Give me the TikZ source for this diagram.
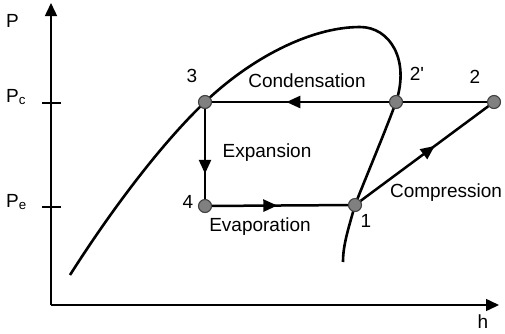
\documentclass[tikz,border=0pt]{standalone}
\usepackage{fontspec}
\setmainfont{Liberation Sans}
\usetikzlibrary{arrows.meta,decorations.markings}
\begin{document}
\begin{tikzpicture}[x=1pt,y=-1pt,
  lbl/.style={anchor=base,inner sep=0pt,font=\fontsize{19}{22}\selectfont},
  sublbl/.style={anchor=base west,inner sep=0pt,font=\fontsize{19}{22}\selectfont},
  statept/.style={circle,fill=black!50,draw=black!75,line width=1.1pt,minimum size=13pt,inner sep=0pt},
  cyc/.style={line width=2.5pt},
  dome/.style={line width=2.6pt},
  axis/.style={line width=1.5pt},
  midarrow/.style={postaction={decorate,decoration={markings,mark=at position #1 with {\arrow{Triangle[length=14pt,width=12pt]}}}}},
]
\useasboundingbox (0,0) rectangle (505,333);
% axes
\coordinate (O) at (51,305);
\coordinate (ytop) at (51,3);
\coordinate (xend) at (499,305);
\draw[axis,-{Triangle[length=13pt,width=12pt]}] (O) -- (ytop);
\draw[axis,-{Triangle[length=13pt,width=12pt]}] (O) -- (xend);
\coordinate (tcl) at (42,103);
\coordinate (tcr) at (61,103);
\coordinate (tel) at (42,207);
\coordinate (ter) at (61,207);
\draw[axis] (tcl) -- (tcr);
\draw[axis] (tel) -- (ter);
% saturation dome
\draw[dome] (70,275) .. controls (110,212) and (160,145) .. (205,102)
  .. controls (250,59) and (310,27) .. (360,27)
  .. controls (390,27) and (410,60) .. (396,102)
  .. controls (387,127) and (364,182) .. (355,205)
  .. controls (348,230) and (343,245) .. (343,262);
% state points
\node[statept] (p3) at (205,102) {};
\node[statept] (p2p) at (396,102) {};
\node[statept] (p2) at (494,102) {};
\node[statept] (p4) at (205,206) {};
\node[statept] (p1) at (355,205) {};
% cycle
\draw[cyc] (p2) -- (p2p);
\draw[cyc,midarrow=0.58] (p2p) -- (p3);
\draw[cyc,midarrow=0.72] (p3) -- (p4);
\draw[cyc,midarrow=0.48] (p4) -- (p1);
\draw[cyc,midarrow=0.58] (p1) -- (p2);
% labels
\node[sublbl] (lP) at (6,27) {P};
\node[sublbl] (lPc) at (6,102) {P\textsubscript{c}};
\node[sublbl] (lPe) at (6,207) {P\textsubscript{e}};
\node[lbl] (lh) at (483,328) {h};
\node[lbl] (l3) at (192,82) {3};
\node[lbl] (lcond) at (307,87) {Condensation};
\node[lbl] (l2p) at (417,80) {2\textquotesingle};
\node[lbl] (l2) at (475,83) {2};
\node[lbl] (lexp) at (267,157) {Expansion};
\node[lbl] (l4) at (188,208) {4};
\node[lbl] (levap) at (260,231) {Evaporation};
\node[lbl] (l1) at (366,227) {1};
\node[lbl] (lcomp) at (446,197) {Compression};
\end{tikzpicture}
\end{document}
